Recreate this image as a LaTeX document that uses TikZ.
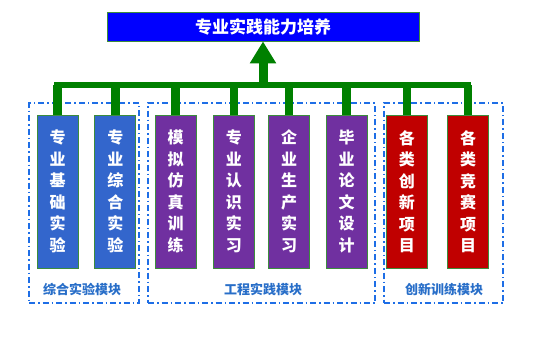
\documentclass[tikz,border=0pt]{standalone}
\usepackage{fontspec}
\newfontfamily\cjk{Noto Sans CJK SC}
\usetikzlibrary{arrows.meta,positioning,fit}
\definecolor{topblue}{RGB}{0,0,255}
\definecolor{expblue}{RGB}{51,102,204}
\definecolor{engpurple}{RGB}{112,48,160}
\definecolor{innored}{RGB}{192,0,0}
\definecolor{linkgreen}{RGB}{0,128,0}
\definecolor{edgegreen}{RGB}{60,140,60}
\definecolor{grpblue}{RGB}{30,110,230}
\definecolor{grptext}{RGB}{40,110,200}
\tikzset{
  goalnode/.style={
    rectangle, draw=edgegreen, line width=0.8pt, fill=topblue,
    minimum width=312pt, minimum height=29pt, inner sep=0pt,
    text=white, font=\cjk\bfseries\fontsize{17}{17}\selectfont
  },
  itemnode/.style={
    rectangle, draw=edgegreen, line width=0.8pt,
    minimum width=41pt, minimum height=153pt, inner sep=0pt,
    align=center, text=white, font=\cjk\bfseries\fontsize{16}{21.5}\selectfont
  },
  expnode/.style={itemnode, fill=expblue},
  engnode/.style={itemnode, fill=engpurple},
  innonode/.style={itemnode, fill=innored},
  grpbox/.style={
    draw=grpblue, line width=1.5pt, inner sep=0pt,
    dash pattern=on 6pt off 3pt on 1.5pt off 3pt
  },
  grplabel/.style={text=grptext, font=\cjk\bfseries\fontsize{13}{13}\selectfont},
  stalk/.style={draw=linkgreen, line width=8.5pt},
  busbar/.style={draw=linkgreen, line width=6.5pt, line cap=rect},
  goalarrow/.style={draw=linkgreen, line width=9pt, -{Triangle[width=25pt,length=22pt]}},
}

\begin{document}
\begin{tikzpicture}[x=1pt, y=-1pt, node distance=16pt]
  \useasboundingbox (0,0) rectangle (554,341);
  \node (goal) [goalnode] at (263,26.5) {专业实践能力培养};

  \node (b1) [expnode] at (57.5,191.5) {专\\业\\基\\础\\实\\验};
  \node (b2) [expnode, right=of b1] {专\\业\\综\\合\\实\\验};
  \node (b3) [engnode, right=18.5pt of b2] {模\\拟\\仿\\真\\训\\练};
  \node (b4) [engnode, right=16.5pt of b3] {专\\业\\认\\识\\实\\习};
  \node (b5) [engnode, right=13.5pt of b4] {企\\业\\生\\产\\实\\习};
  \node (b6) [engnode, right=15.5pt of b5] {毕\\业\\论\\文\\设\\计};
  \node (b7) [innonode, right=18.5pt of b6] {各\\类\\创\\新\\项\\目};
  \node (b8) [innonode, right=19.5pt of b7] {各\\类\\竞\\赛\\项\\目};

  \node (g1) [grpbox, fit={(29,103) (139,303)}] {};
  \node (g2) [grpbox, fit={(148,103) (375,303)}] {};
  \node (g3) [grpbox, fit={(384,103) (503,303)}] {};
  \node (l1) [grplabel] at (82,289) {综合实验模块};
  \node (l2) [grplabel] at (263,289) {工程实践模块};
  \node (l3) [grplabel] at (444,289) {创新训练模块};

  % green tree up to the goal
  \coordinate (bar) at (263,85);
  \foreach \b in {b1,b2,b3,b4,b5,b6,b7,b8}
    \draw[stalk] (\b.north) -- (\b.north |- bar);
  \draw[busbar] (b1.north |- bar) -- (b8.north |- bar);
  \draw[goalarrow] (goal.south |- bar) -- (goal.south);
\end{tikzpicture}
\end{document}
